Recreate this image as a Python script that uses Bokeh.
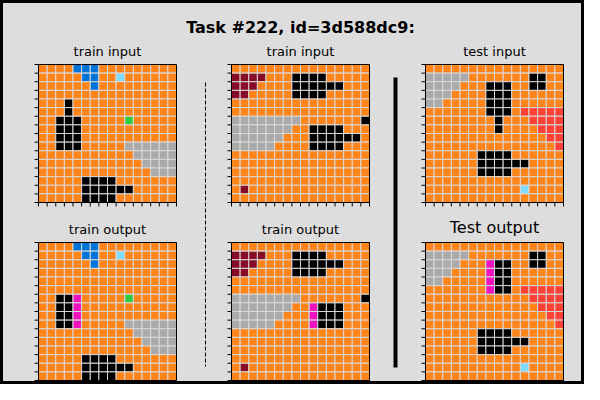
from bokeh.plotting import figure
from bokeh.models import Range1d
from bokeh.embed import file_html
from bokeh.resources import INLINE
from bokeh.core.properties import value

PALETTE = {0: "#000000", 1: "#0074D9", 2: "#FF4136", 3: "#2ECC40", 5: "#AAAAAA",
           6: "#F012BE", 7: "#FF851B", 8: "#7FDBFF", 9: "#870C25"}

def grid(spec):
    g = [[7] * 16 for _ in range(16)]
    for r, c0, c1, v in spec:
        for c in range(c0, c1 + 1):
            g[r][c] = v
    return g

train1_in = grid([(0,4,6,1),(1,5,6,1),(1,9,9,8),(2,6,6,1),(4,3,3,0),(5,3,3,0),
                  (6,2,4,0),(6,10,10,3),(7,2,4,0),(8,2,4,0),(9,2,4,0),(9,10,15,5),
                  (10,11,15,5),(11,12,15,5),(12,13,15,5),(13,5,8,0),(14,5,10,0),(15,5,8,0)])
train1_out = grid([(0,4,6,1),(1,5,6,1),(1,9,9,8),(2,6,6,1),
                   (6,2,3,0),(6,4,4,6),(6,10,10,3),(7,2,3,0),(7,4,4,6),(8,2,3,0),(8,4,4,6),
                   (9,2,3,0),(9,4,4,6),(9,10,15,5),
                   (10,11,15,5),(11,12,15,5),(12,13,15,5),(13,5,8,0),(14,5,10,0),(15,5,8,0)])
train2_in = grid([(1,0,3,9),(1,7,10,0),(2,0,2,9),(2,7,12,0),(3,0,1,9),(3,7,10,0),
                  (6,0,7,5),(6,15,15,0),(7,0,6,5),(7,9,12,0),(8,0,5,5),(8,9,14,0),
                  (9,0,4,5),(9,9,12,0),(14,1,1,9)])
train2_out = grid([(1,0,3,9),(1,7,10,0),(2,0,2,9),(2,7,12,0),(3,0,1,9),(3,7,10,0),
                   (6,0,7,5),(6,15,15,0),(7,0,6,5),(7,9,9,6),(7,10,12,0),(8,0,5,5),
                   (8,9,9,6),(8,10,12,0),(9,0,4,5),(9,9,9,6),(9,10,12,0),(14,1,1,9)])
test_in = grid([(1,0,4,5),(1,12,13,0),(2,0,3,5),(2,7,9,0),(2,12,13,0),(3,0,2,5),(3,7,9,0),
                (4,0,1,5),(4,7,9,0),(5,7,9,0),(5,11,15,2),(6,8,8,0),(6,12,15,2),
                (7,8,8,0),(7,13,15,2),(8,14,15,2),(9,15,15,2),(10,6,9,0),(11,6,11,0),
                (12,6,9,0),(14,11,11,8)])
test_out = grid([(1,0,4,5),(1,12,13,0),(2,0,3,5),(2,7,7,6),(2,8,9,0),(2,12,13,0),(3,0,2,5),
                 (3,7,7,6),(3,8,9,0),(4,0,1,5),(4,7,7,6),(4,8,9,0),(5,7,7,6),(5,8,9,0),
                 (5,11,15,2),(6,12,15,2),(7,13,15,2),(8,14,15,2),(9,15,15,2),
                 (10,6,9,0),(11,6,11,0),(12,6,9,0),(14,11,11,8)])

panels = [("train input", train1_in, 38, 64, "13px"),
          ("train input", train2_in, 231, 64, "13px"),
          ("test input", test_in, 425, 64, "13px"),
          ("train output", train1_out, 38, 242, "13px"),
          ("train output", train2_out, 231, 242, "13px"),
          ("Test output", test_out, 425, 242, "16px")]

W, H = 584, 384
p = figure(width=W, height=H, output_backend="svg", toolbar_location=None,
           x_range=Range1d(0, 584), y_range=Range1d(384, 0), min_border=0)
p.axis.visible = False
p.grid.visible = False
p.background_fill_color = "#dddddd"
p.border_fill_color = "#dddddd"
p.outline_line_color = "black"
p.outline_line_width = 5

S = 138.0
cs = S / 16
for title, g, x0, y0, fs in panels:
    xs, ys, cols = [], [], []
    for r in range(16):
        for c in range(16):
            xs.append(x0 + (c + 0.5) * cs)
            ys.append(y0 + (r + 0.5) * cs)
            cols.append(PALETTE[g[r][c]])
    p.rect(xs, ys, cs, cs, fill_color=cols, line_color="#d8d8d8", line_width=1)
    p.rect([x0 + S / 2], [y0 + S / 2], S, S, fill_alpha=0, line_color="black", line_width=1)
    tk = [x0 + i * cs for i in range(17)]
    p.segment(tk, [y0 + S] * 17, tk, [y0 + S + 4] * 17, line_color="black", line_width=1)
    tky = [y0 + i * cs for i in range(17)]
    p.segment([x0 - 4] * 17, tky, [x0] * 17, tky, line_color="black", line_width=1)
    p.text([x0 + S / 2], [y0 - 6], text=[title], text_align="center", text_baseline="bottom",
           text_font=value("DejaVu Sans"), text_font_size=fs, text_color="black")

p.text([300], [27], text=["Task #222, id=3d588dc9:"], text_align="center", text_baseline="middle",
       text_font=value("DejaVu Sans"), text_font_size="16px", text_font_style="bold")
p.line([205, 205], [82, 366], line_color="black", line_width=1, line_dash="4 2")
p.line([395, 395], [77, 367], line_color="black", line_width=4)

open("out.html", "w").write(file_html(p, INLINE))
